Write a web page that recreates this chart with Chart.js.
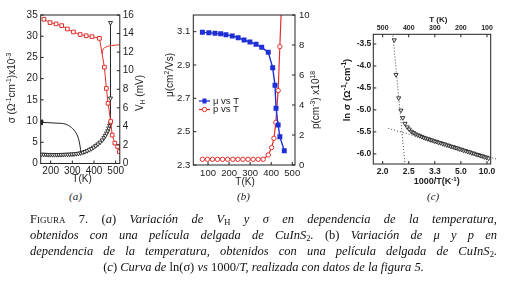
<!DOCTYPE html>
<html>
<head>
<meta charset="utf-8">
<script src="https://cdn.jsdelivr.net/npm/chart.js@4.4.0/dist/chart.umd.min.js"></script>
<style>
  body { margin:0; background:#fff; width:515px; height:302px; position:relative; overflow:hidden; }
  canvas { position:absolute; }
  .lbl { position:absolute; font: italic 11px "Liberation Serif", serif; color:#222; }
  .cap { position:absolute; left:30px; width:467px; line-height:16px; font: italic 12.5px "Liberation Serif", serif; color:#111; text-align:justify; text-align-last:justify; }
  .cap.mid { text-align:center; text-align-last:center; }
  .up { font-style:normal; }
  .sc { font-style:normal; font-variant:small-caps; }
  sub { font-size:8.5px; vertical-align:-2px; line-height:0; }
</style>
</head>
<body>
<canvas id="ca" width="165" height="190" style="left:0;top:0"></canvas>
<canvas id="cb" width="180" height="190" style="left:155px;top:0"></canvas>
<canvas id="cc" width="180" height="195" style="left:335px;top:0"></canvas>

<div class="lbl" style="left:69px;top:190px">(a)</div>
<div class="lbl" style="left:237px;top:190px">(b)</div>
<div class="lbl" style="left:427px;top:190px">(c)</div>

<div class="cap" style="top:212px"><span class="sc">Figura 7.</span> <span class="up">(</span>a<span class="up">)</span> Variación de V<sub class="up">H</sub> y σ en dependencia de la temperatura,</div>
<div class="cap" style="top:228px">obtenidos con una película delgada de CuInS<sub class="up">2</sub>. <span class="up">(b)</span> Variación de μ y p en</div>
<div class="cap" style="top:244px">dependencia de la temperatura, obtenidos con una película delgada de CuInS<sub class="up">2</sub>.</div>
<div class="cap mid" style="top:260px"><span class="up">(</span>c<span class="up">)</span> Curva de <span class="up">ln(σ)</span> vs <span class="up">1000/</span>T, realizada con datos de la figura 5.</div>

<script>
// panel (a): sigma and V_H vs T
const aSigmaT = [169, 197, 225, 251, 277, 305, 336, 364, 391, 425, 448, 457, 465, 477, 484, 496, 509, 517];
const aSigma  = [34.0, 33.2, 32.9, 32.5, 31.7, 31.0, 30.4, 30.1, 29.9, 29.5, 22.7, 17.7, 14.2, 9.9, 6.7, 4.8, 4.0, 2.8];
const aBranchT = [437, 441, 446, 453, 462, 480, 500, 519];
const aBranch  = [25.8, 26.8, 27.2, 27.4, 27.6, 27.8, 27.9, 28.0];
const aCurveT = [155, 197, 230, 259, 290, 313, 328, 336, 340];
const aCurve  = [9.7, 9.6, 9.5, 9.4, 8.7, 7.5, 5.9, 4.0, 2.4];
const aTriT = [158, 168, 178, 188, 198, 208, 218, 228, 238, 248, 258, 268, 278, 288, 298, 308, 318, 328, 338,
               348, 358, 368, 378, 388, 398, 408, 418, 428, 438, 446, 452, 458, 464, 468, 472, 475, 476, 476];
const aVH  = [0.98, 0.97, 0.96, 0.95, 0.95, 0.94, 0.94, 0.94, 0.95, 0.95, 0.96, 0.97, 0.98, 0.99, 1.0, 1.02, 1.05, 1.08, 1.13,
              1.19, 1.27, 1.36, 1.47, 1.59, 1.74, 1.9, 2.08, 2.28, 2.52, 2.76, 3.0, 3.25, 3.5, 3.8, 4.1, 4.33, 7.03, 15.17];
const aXTicks = [200, 300, 400, 500];
const aYTicks = [0, 5, 10, 15, 20, 25, 30, 35];
const aY1Ticks = [0, 2, 4, 6, 8, 10, 12, 14, 16];

// panel (b): mobility and carrier density vs T
const bMuT = [73, 104, 133, 160, 185, 215, 243, 271, 299, 328, 355, 386, 407, 418, 423, 433, 441, 462];
const bMu  = [3.096, 3.094, 3.090, 3.088, 3.082, 3.074, 3.064, 3.050, 3.038, 3.024, 3.006, 2.976, 2.884, 2.778, 2.640, 2.540, 2.470, 2.386];
const bPT = [73, 97, 121, 145, 169, 193, 218, 242, 266, 290, 314, 338, 362, 386, 402, 413, 422, 433, 441, 462];
const bP  = [0.38, 0.38, 0.38, 0.38, 0.38, 0.38, 0.38, 0.38, 0.38, 0.38, 0.38, 0.38, 0.38, 0.67, 1.16, 1.78, 2.84, 4.96, 7.89, 15.5];
const bXTicks = [100, 200, 300, 400, 500];
const bYTicks = [2.3, 2.5, 2.7, 2.9, 3.1];
const bY1Ticks = [0, 2, 4, 6, 8, 10];

// panel (c): ln sigma vs 1000/T
const cInvT = [2.195, 2.227, 2.28, 2.326, 2.364, 2.413, 2.465, 2.513,
  2.564, 2.618, 2.674, 2.732, 2.793, 2.857, 2.924, 2.994, 3.067, 3.145, 3.226, 3.311, 3.401, 3.497, 3.597,
  3.704, 3.817, 3.937, 4.065, 4.202, 4.348, 4.505, 4.673, 4.854, 5.051, 5.263, 5.495, 5.747, 6.024, 6.329,
  6.667, 7.042, 7.463, 7.937, 8.475, 9.091, 9.804, 10.638];
const cLn = [-3.41, -4.20, -4.73, -5.01, -5.18, -5.31, -5.39, -5.44,
  -5.49, -5.52, -5.55, -5.57, -5.59, -5.61, -5.63, -5.645, -5.66, -5.68, -5.69, -5.71, -5.72, -5.74, -5.75,
  -5.77, -5.78, -5.80, -5.81, -5.83, -5.84, -5.86, -5.87, -5.89, -5.90, -5.92, -5.93, -5.95, -5.96, -5.98,
  -5.99, -6.01, -6.02, -6.04, -6.05, -6.07, -6.08, -6.10];
const cFit1X = [2.17, 2.41];
const cFit1Y = [-3.31, -6.21];
const cFit2X = [2.09, 15.9];
const cFit2Y = [-5.42, -6.12];
const cTTicks = [500, 400, 300, 200, 100];
const cYTicks = [-6.0, -5.5, -5.0, -4.5, -4.0, -3.5];

const FAM = '"Liberation Sans", Arial, sans-serif';
const INK = '#222';
const RED = '#e0302c';
const BLUE = '#1f2fd6';

const xy = (xs, ys) => xs.map((x, i) => ({ x: x, y: ys[i] }));

function rich(ctx, parts, x, y, size, rot, bold) {
  const w = bold ? 'bold ' : '';
  ctx.save();
  ctx.translate(x, y);
  ctx.rotate(rot || 0);
  ctx.fillStyle = INK;
  ctx.textBaseline = 'middle';
  ctx.textAlign = 'left';
  let total = 0;
  parts.forEach(p => {
    ctx.font = w + (p[1] ? size * 0.68 : size) + 'px ' + FAM;
    total += ctx.measureText(p[0]).width;
  });
  let cx = -total / 2;
  parts.forEach(p => {
    ctx.font = w + (p[1] ? size * 0.68 : size) + 'px ' + FAM;
    const dy = p[1] === 1 ? -size * 0.32 : p[1] === -1 ? size * 0.32 : 0;
    ctx.fillText(p[0], cx, dy);
    cx += ctx.measureText(p[0]).width;
  });
  ctx.restore();
}

// frame box, inward ticks, axis titles and legend
const deco = {
  id: 'deco',
  afterDraw(chart, args, opts) {
    const { ctx, chartArea: a } = chart;
    ctx.save();
    ctx.strokeStyle = INK;
    ctx.lineWidth = 1;
    ctx.strokeRect(a.left, a.top, a.right - a.left, a.bottom - a.top);
    Object.values(chart.scales).forEach(s => {
      s.ticks.forEach(t => {
        const p = s.getPixelForValue(t.value);
        ctx.beginPath();
        if (s.position === 'left') { ctx.moveTo(a.left, p); ctx.lineTo(a.left + 3, p); }
        if (s.position === 'right') { ctx.moveTo(a.right, p); ctx.lineTo(a.right - 3, p); }
        if (s.position === 'bottom') { ctx.moveTo(p, a.bottom); ctx.lineTo(p, a.bottom - 3); }
        if (s.position === 'top') { ctx.moveTo(p, a.top); ctx.lineTo(p, a.top + 3); }
        ctx.stroke();
      });
    });
    ctx.restore();
    (opts.titles || []).forEach(t => rich(ctx, t.parts, t.x, t.y, t.size, t.rot, t.bold));
    (opts.legend || []).forEach(l => {
      ctx.save();
      ctx.strokeStyle = l.color;
      ctx.lineWidth = 1.3;
      ctx.beginPath();
      ctx.moveTo(l.x, l.y);
      ctx.lineTo(l.x + 11, l.y);
      ctx.stroke();
      ctx.lineWidth = 1;
      if (l.style === 'rect') {
        ctx.fillStyle = l.color;
        ctx.fillRect(l.x + 3.5, l.y - 2.5, 4, 5);
      } else {
        ctx.fillStyle = '#fff';
        ctx.beginPath();
        ctx.arc(l.x + 5.5, l.y, 2.2, 0, Math.PI * 2);
        ctx.fill();
        ctx.stroke();
      }
      ctx.fillStyle = INK;
      ctx.font = '9.5px ' + FAM;
      ctx.textBaseline = 'middle';
      ctx.fillText(l.label, l.x + 14, l.y);
      ctx.restore();
    });
  }
};

function axis(pos, min, max, tickList, fmt, fit, pad, font, extra) {
  return Object.assign({
    type: 'linear',
    position: pos,
    min: min,
    max: max,
    grid: { display: false, drawTicks: false },
    border: { display: false },
    ticks: { font: font, color: INK, padding: pad, maxRotation: 0, autoSkip: false, callback: fmt },
    afterBuildTicks: s => { s.ticks = tickList.map(v => ({ value: v })); },
    afterFit: s => {
      if (pos === 'left' || pos === 'right') s.width = fit; else s.height = fit;
    }
  }, extra || {});
}

const base = (padding) => ({
  responsive: false,
  animation: false,
  layout: { padding: padding, autoPadding: false },
  plugins: { legend: { display: false }, tooltip: { enabled: false } }
});

// (a)
const fontA = { size: 10, family: FAM };
const optsA = base({ top: 15, left: 0, right: 0, bottom: 0 });
optsA.scales = {
  x: axis('bottom', 154, 519, aXTicks, v => v, 26.5, 2, fontA),
  y: axis('left', 0, 35, aYTicks, v => v, 40.7, 3, fontA),
  y1: axis('right', 0, 16, aY1Ticks, v => v, 45.2, 3, fontA)
};
optsA.plugins.deco = {
  titles: [
    { parts: [['σ (Ω', 0], ['-1', 1], ['cm', 0], ['-1', 1], [')x10', 0], ['-3', 1]], x: 12, y: 88, size: 10, rot: -Math.PI / 2 },
    { parts: [['V', 0], ['H', -1], [' (mV)', 0]], x: 140, y: 93, size: 10, rot: -Math.PI / 2 },
    { parts: [['T(K)', 0]], x: 82, y: 179, size: 10 }
  ]
};
new Chart(document.getElementById('ca'), {
  type: 'line',
  data: {
    datasets: [
      { data: xy(aSigmaT, aSigma), yAxisID: 'y', borderColor: RED, borderWidth: 1, pointStyle: 'rect',
        pointRadius: 2.6, pointBorderColor: RED, pointBackgroundColor: '#fff', pointBorderWidth: 1 },
      { data: xy(aBranchT, aBranch), yAxisID: 'y', borderColor: RED, borderWidth: 1, pointRadius: 0,
        cubicInterpolationMode: 'monotone' },
      { data: xy(aCurveT, aCurve), yAxisID: 'y', borderColor: INK, borderWidth: 1, pointStyle: 'triangle',
        pointRotation: -90, pointRadius: aCurve.map((v, i) => i === 0 ? 3 : 0), pointBackgroundColor: INK,
        pointBorderColor: INK, cubicInterpolationMode: 'monotone' },
      { data: xy(aTriT, aVH), yAxisID: 'y1', borderColor: INK, borderWidth: 1, pointStyle: 'triangle',
        pointRotation: 180, pointRadius: 2.4, pointBorderColor: INK, pointBackgroundColor: '#fff', pointBorderWidth: 0.9 }
    ]
  },
  options: optsA,
  plugins: [deco]
});

// (b)
const fontB = { size: 9.5, family: FAM };
const optsB = base({ top: 15, left: 0, right: 0, bottom: 0 });
optsB.scales = {
  x: axis('bottom', 30, 513, bXTicks, v => v, 25, 3, fontB),
  y: axis('left', 2.3, 3.2, bYTicks, v => v.toFixed(1), 38.3, 3, fontB),
  y1: axis('right', 0, 10, bY1Ticks, v => v, 40, 4, fontB)
};
optsB.plugins.deco = {
  titles: [
    { parts: [['μ(cm', 0], ['2', 1], ['/Vs)', 0]], x: 15, y: 75, size: 10, rot: -Math.PI / 2 },
    { parts: [['p(cm', 0], ['-3', 1], [') x10', 0], ['18', 1]], x: 161, y: 100, size: 10, rot: -Math.PI / 2 },
    { parts: [['T(K)', 0]], x: 90, y: 182, size: 10 }
  ],
  legend: [
    { label: 'μ vs T', color: BLUE, style: 'rect', x: 44, y: 101 },
    { label: 'p vs T', color: RED, style: 'circle', x: 44, y: 109.5 }
  ]
};
new Chart(document.getElementById('cb'), {
  type: 'line',
  data: {
    datasets: [
      { data: xy(bMuT, bMu), yAxisID: 'y', borderColor: BLUE, borderWidth: 1.4, pointStyle: 'rect',
        pointRadius: 2.5, pointBorderColor: BLUE, pointBackgroundColor: BLUE },
      { data: xy(bPT, bP), yAxisID: 'y1', borderColor: RED, borderWidth: 1.2, pointStyle: 'circle',
        pointRadius: 2.2, pointBorderColor: RED, pointBackgroundColor: '#fff', pointBorderWidth: 1 }
    ]
  },
  options: optsB,
  plugins: [deco]
});

// (c) x axis runs linear in T (reversed), labelled in 1000/T below and T above
const fontC = { size: 8.5, family: FAM, weight: 'bold' };
const fontCTop = { size: 7, family: FAM, weight: 'bold' };
const optsC = base({ top: 0, left: 0, right: 24.3, bottom: 0 });
optsC.scales = {
  x: axis('bottom', 85.8, 536, cTTicks, v => (1000 / v).toFixed(1), 31, 3, fontC, { reverse: true }),
  x2: axis('top', 85.8, 536, cTTicks, v => v, 34.3, 2, fontCTop, { reverse: true }),
  y: axis('left', -6.23, -3.28, cYTicks, v => v.toFixed(1), 38.3, 2, fontC)
};
optsC.plugins.deco = {
  titles: [
    { parts: [['ln σ (Ω', 0], ['-1', 1], ['·cm', 0], ['-1', 1], [')', 0]], x: 12, y: 90, size: 9.5, rot: -Math.PI / 2, bold: true },
    { parts: [['T (K)', 0]], x: 103.3, y: 20, size: 8, bold: true },
    { parts: [['1000/T(K', 0], ['-1', 1], [')', 0]], x: 101.7, y: 182, size: 9, bold: true }
  ]
};
const toT = xs => xs.map(v => 1000 / v);
new Chart(document.getElementById('cc'), {
  type: 'line',
  data: {
    datasets: [
      { data: xy(toT(cInvT), cLn), borderColor: 'rgba(0,0,0,0)', showLine: false, pointStyle: 'triangle',
        pointRotation: 180, pointRadius: 2.4, pointBorderColor: INK, pointBackgroundColor: '#fff', pointBorderWidth: 0.9 },
      { data: xy(toT(cFit1X), cFit1Y), borderColor: '#444', borderWidth: 1, borderDash: [1, 2], pointRadius: 0 },
      { data: xy(toT(cFit2X), cFit2Y), borderColor: '#444', borderWidth: 1, borderDash: [1, 2], pointRadius: 0, clip: false }
    ]
  },
  options: optsC,
  plugins: [deco]
});
</script>
</body>
</html>
